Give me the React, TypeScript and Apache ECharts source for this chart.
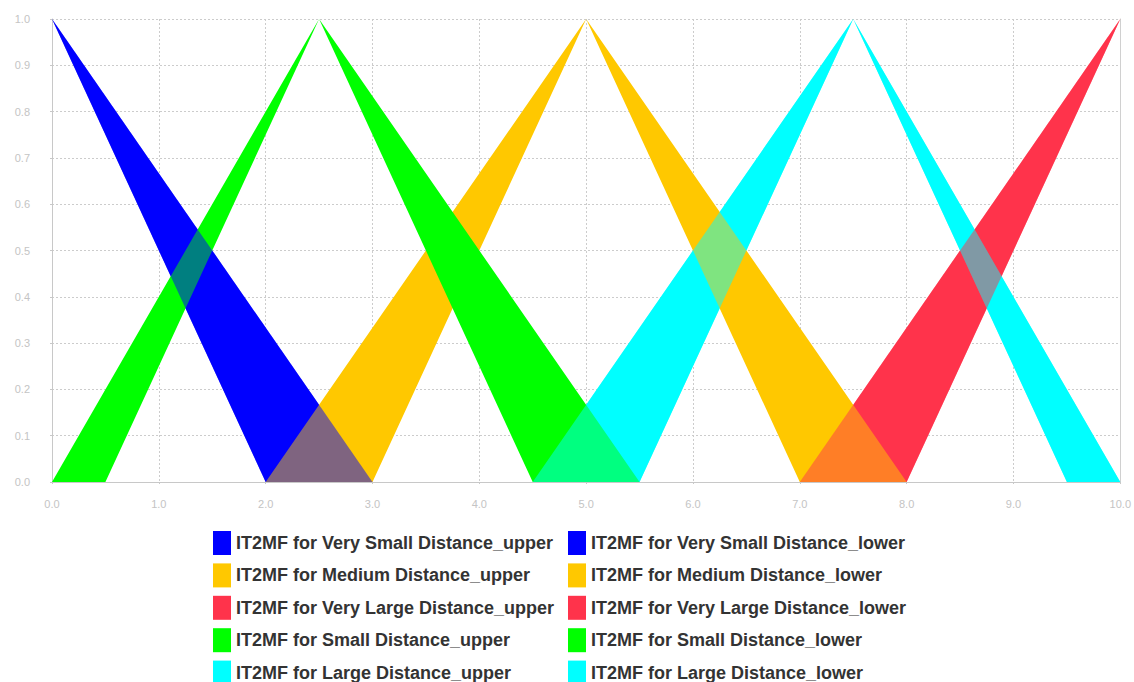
import React, { useEffect, useRef } from "react";
import * as echarts from "echarts";

// Interval type-2 triangular membership functions (x, membership)
const mfNames = [
  "Very Small Distance",
  "Medium Distance",
  "Very Large Distance",
  "Small Distance",
  "Large Distance",
];
const mfColors = ["#0000FF", "#FFC800", "#FF334B", "#00FF00", "#00FFFF"];

const vsUpper = [[0, 1], [3, 0]];
const vsLower = [[0, 1], [2, 0]];
const mUpper = [[2, 0], [5, 1], [8, 0]];
const mLower = [[3, 0], [5, 1], [7, 0]];
const vlUpper = [[7, 0], [10, 1]];
const vlLower = [[8, 0], [10, 1]];
const sUpper = [[0, 0], [2.5, 1], [5.5, 0]];
const sLower = [[0.5, 0], [2.5, 1], [4.5, 0]];
const lUpper = [[4.5, 0], [7.5, 1], [10, 0]];
const lLower = [[5.5, 0], [7.5, 1], [9.5, 0]];

const uppers = [vsUpper, mUpper, vlUpper, sUpper, lUpper];
const lowers = [vsLower, mLower, vlLower, sLower, lLower];

const xMin = 0;
const xMax = 10;
const xInterval = 1;
const yMin = 0;
const yMax = 1;
const yInterval = 0.1;

// indices into mfNames: 0 VS, 1 M, 2 VL, 3 S, 4 L
// drawing passes [index, opacity] to reproduce the overlap tints
const passes: [number, number][] = [
  [0, 1],
  [2, 1],
  [4, 1],
  [1, 1],
  [3, 1],
  [4, 0.5],
  [0, 0.5],
  [2, 0.5],
];

function bandOf(i: number) {
  return uppers[i].concat(lowers[i].slice().reverse());
}

function makeBandSeries(i: number, name: string | undefined, opacity: number, id: string) {
  const band = bandOf(i);
  const color = mfColors[i];
  const s: any = {
    type: "custom",
    id,
    data: band,
    encode: { x: 0, y: 1 },
    itemStyle: { color },
    renderItem: (params: any, api: any) => {
      if (params.dataIndex !== 0) return null;
      const pts = band.map((p) => api.coord(p));
      return {
        type: "polygon",
        shape: { points: pts },
        style: { fill: color, opacity },
      };
    },
  };
  if (name) s.name = name;
  return s;
}

export default function App() {
  const ref = useRef<HTMLDivElement>(null);
  useEffect(() => {
    if (!ref.current) return;
    const chart = echarts.init(ref.current, null, { renderer: "svg" });
    const upperNames = mfNames.map((n) => `IT2MF for ${n}_upper`);
    const lowerNames = mfNames.map((n) => `IT2MF for ${n}_lower`);
    const series: any[] = [];
    const usedUpper: Record<number, boolean> = {};
    passes.forEach(([i, op], k) => {
      let name: string | undefined;
      if (op === 1 && !usedUpper[i]) {
        name = upperNames[i];
        usedUpper[i] = true;
      }
      series.push(makeBandSeries(i, name, op, "band" + k));
    });
    for (let i = 0; i < mfNames.length; i++) {
      series.push({
        type: "line",
        name: lowerNames[i],
        data: lowers[i],
        showSymbol: false,
        symbol: "none",
        itemStyle: { color: mfColors[i] },
        lineStyle: { width: 0, opacity: 0 },
        z: 1,
      });
    }
    const legendCommon = {
      orient: "vertical",
      top: 526,
      height: 180,
      icon: "rect",
      itemWidth: 18,
      itemHeight: 24,
      itemGap: 8.4,
      selectedMode: false,
      textStyle: {
        fontSize: 18,
        fontWeight: "bold",
        color: "#333333",
        fontFamily: "'Liberation Sans', Arial, sans-serif",
      },
    };
    const labelStyle = {
      color: "#c4c4c4",
      fontSize: 11,
      fontFamily: "'Liberation Sans', Arial, sans-serif",
    };
    chart.setOption({
      animation: false,
      backgroundColor: "#ffffff",
      grid: { left: 52, right: 10, top: 19, bottom: 200, containLabel: false },
      legend: [
        { ...legendCommon, left: 208, data: upperNames },
        { ...legendCommon, left: 563, data: lowerNames },
      ],
      xAxis: {
        type: "value",
        min: xMin,
        max: xMax,
        interval: xInterval,
        axisLine: { show: true, lineStyle: { color: "#c8c8c8", width: 1 } },
        axisTick: { show: true, length: 2, lineStyle: { color: "#c8c8c8" } },
        axisLabel: {
          ...labelStyle,
          margin: 16,
          formatter: (v: number) => v.toFixed(1),
        },
        splitLine: {
          show: true,
          lineStyle: { color: "#cccccc", type: [2, 2], width: 1 },
        },
      },
      yAxis: [
        {
          type: "value",
          min: yMin,
          max: yMax,
          interval: yInterval,
          axisLine: { show: true, lineStyle: { color: "#c8c8c8", width: 1 } },
          axisTick: { show: true, length: 2, lineStyle: { color: "#c8c8c8" } },
          axisLabel: {
            ...labelStyle,
            margin: 22,
            formatter: (v: number) => v.toFixed(1),
          },
          splitLine: {
            show: true,
            lineStyle: { color: "#cccccc", type: [2, 2], width: 1 },
          },
        },
        {
          type: "value",
          position: "right",
          min: yMin,
          max: yMax,
          interval: yInterval,
          axisLine: { show: true, lineStyle: { color: "#d0d0d0", width: 1 } },
          axisTick: { show: false },
          axisLabel: { show: false },
          splitLine: { show: false },
        },
      ],
      series,
    });
    return () => chart.dispose();
  }, []);
  return (
    <div
      ref={ref}
      style={{ position: "fixed", left: 0, top: 0, width: 1134, height: 682 }}
    />
  );
}
